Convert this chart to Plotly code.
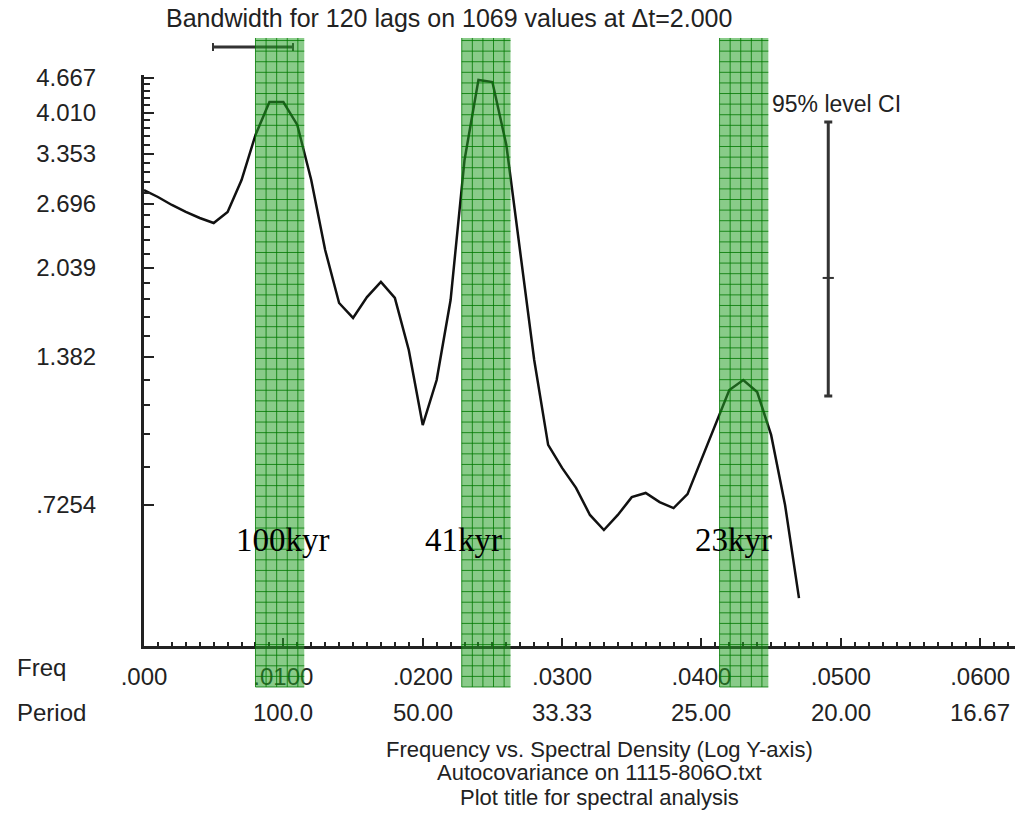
import plotly.graph_objects as go

# Spectral estimate (Blackman-Tukey, log density axis)
freq = [0.000, 0.001, 0.002, 0.003, 0.004, 0.005, 0.006, 0.007, 0.008, 0.009,
        0.010, 0.011, 0.012, 0.013, 0.014, 0.015, 0.016, 0.017, 0.018, 0.019,
        0.020, 0.021, 0.022, 0.023, 0.024, 0.025, 0.026, 0.027, 0.028, 0.029,
        0.030, 0.031, 0.032, 0.033, 0.034, 0.035, 0.036, 0.037, 0.038, 0.039,
        0.040, 0.041, 0.042, 0.043, 0.044, 0.045, 0.046, 0.047]
density = [2.862, 2.777, 2.682, 2.602, 2.534, 2.479, 2.602, 2.990, 3.639, 4.202,
           4.202, 3.802, 2.990, 2.204, 1.749, 1.639, 1.795, 1.917, 1.788, 1.425,
           1.027, 1.250, 1.772, 3.264, 4.627, 4.585, 3.483, 2.204, 1.364, 0.942,
           0.852, 0.781, 0.694, 0.650, 0.694, 0.750, 0.764, 0.734, 0.715, 0.760,
           0.882, 1.027, 1.197, 1.250, 1.186, 0.984, 0.725, 0.483]

ytick_vals = [0.7254, 1.382, 2.039, 2.696, 3.353, 4.010, 4.667]
ytick_text = [".7254", "1.382", "2.039", "2.696", "3.353", "4.010", "4.667"]
xtick_vals = [0.00, 0.01, 0.02, 0.03, 0.04, 0.05, 0.06]
xtick_text = [".000", ".0100", ".0200", ".0300", ".0400", ".0500", ".0600"]
period_text = ["", "100.0", "50.00", "33.33", "25.00", "20.00", "16.67"]

# Orbital bands
band_lo = [0.0080, 0.0228, 0.0413]
band_hi = [0.0115, 0.0263, 0.0448]
band_names = ["100kyr", "41kyr", "23kyr"]
band_label_x = [0.0100, 0.0229, 0.0423]

bandwidth = [0.00495, 0.01069]
ci_freq = 0.0491
ci_mid, ci_low, ci_high = 1.951, 1.166, 3.852

FONT = "Liberation Sans, Arial, sans-serif"
INK = "#222222"

# minor y ticks: five subdivisions of each labelled interval
step = ytick_vals[1] - ytick_vals[0]
yminor = [ytick_vals[0] - step]
for a, b in zip(ytick_vals[:-1], ytick_vals[1:]):
    d = (b - a) / 5
    yminor += [a + d * i for i in range(1, 5)]

fig = go.Figure()

fig.add_trace(go.Scatter(
    x=freq, y=density, mode="lines",
    line=dict(color="#111111", width=2.5),
    showlegend=False, hoverinfo="skip"))

# 95% confidence interval bar
fig.add_trace(go.Scatter(
    x=[ci_freq], y=[ci_mid], mode="markers",
    marker=dict(symbol="line-ew", size=8, line=dict(color="#333333", width=2)),
    error_y=dict(type="data", symmetric=False,
                 array=[ci_high - ci_mid], arrayminus=[ci_mid - ci_low],
                 thickness=3, width=4, color="#333333"),
    showlegend=False, hoverinfo="skip"))

shapes = []
# bandwidth bar above the plot
bw_y = 1.049
shapes.append(dict(type="line", xref="x", yref="paper", x0=bandwidth[0], x1=bandwidth[1],
                   y0=bw_y, y1=bw_y, line=dict(color="#333333", width=3), layer="above"))
for bx in bandwidth:
    shapes.append(dict(type="line", xref="x", yref="paper", x0=bx, x1=bx,
                       y0=bw_y - 0.007, y1=bw_y + 0.007,
                       line=dict(color="#333333", width=2), layer="above"))

# shaded, gridded bands
band_top, band_bot = 1.0648, -0.0718
gx, gy = 0.00076, 0.01856
for lo, hi in zip(band_lo, band_hi):
    shapes.append(dict(type="rect", xref="x", yref="paper", x0=lo, x1=hi,
                       y0=band_bot, y1=band_top, line=dict(width=0),
                       fillcolor="rgba(40,160,40,0.55)", layer="above"))
    x = lo
    while x < hi - 1e-5:
        shapes.append(dict(type="line", xref="x", yref="paper", x0=x, x1=x,
                           y0=band_bot, y1=band_top,
                           line=dict(color="rgba(0,120,0,0.8)", width=1), layer="above"))
        x += gx
    y = band_bot
    while y < band_top:
        shapes.append(dict(type="line", xref="x", yref="paper", x0=lo, x1=hi,
                           y0=y, y1=y,
                           line=dict(color="rgba(0,120,0,0.8)", width=1), layer="above"))
        y += gy

annotations = []
annotations.append(dict(text="Bandwidth for 120 lags on 1069 values at \u0394t=2.000",
                        xref="paper", yref="paper", x=0.350, y=1.0998,
                        xanchor="center", yanchor="middle", showarrow=False,
                        font=dict(family=FONT, size=25, color=INK)))
annotations.append(dict(text="95% level CI", xref="paper", yref="paper",
                        x=0.7187, y=0.949, xanchor="left", yanchor="middle",
                        showarrow=False, font=dict(family=FONT, size=23, color=INK)))
for name, bx in zip(band_names, band_label_x):
    annotations.append(dict(text=name, xref="x", yref="paper", x=bx, y=0.1856,
                            xanchor="center", yanchor="middle", showarrow=False,
                            font=dict(family="Liberation Serif, Times New Roman, serif",
                                      size=33, color="#000000")))
annotations.append(dict(text="Freq", xref="paper", yref="paper", x=-0.148, y=-0.0385,
                        xanchor="left", yanchor="middle", showarrow=False,
                        font=dict(family=FONT, size=24, color=INK)))
annotations.append(dict(text="Period", xref="paper", yref="paper", x=-0.148, y=-0.1173,
                        xanchor="left", yanchor="middle", showarrow=False,
                        font=dict(family=FONT, size=24, color=INK)))
for fx, pt in zip(xtick_vals, period_text):
    if pt:
        annotations.append(dict(text=pt, xref="x", yref="paper", x=fx, y=-0.1173,
                                xanchor="center", yanchor="middle", showarrow=False,
                                font=dict(family=FONT, size=24, color=INK)))
for txt, yy in [("Frequency vs. Spectral Density (Log Y-axis)", -0.182),
                ("Autocovariance on 1115-806O.txt", -0.2224),
                ("Plot title for spectral analysis", -0.2645)]:
    annotations.append(dict(text=txt, xref="paper", yref="paper", x=0.5235, y=yy,
                            xanchor="center", yanchor="middle", showarrow=False,
                            font=dict(family=FONT, size=22, color=INK)))

fig.update_layout(
    width=1025, height=829,
    margin=dict(l=144, r=10, t=75, b=183),
    paper_bgcolor="white", plot_bgcolor="white",
    shapes=shapes, annotations=annotations,
    xaxis=dict(range=[0, 0.0625], showgrid=False, zeroline=False,
               showline=True, linecolor="#222222", linewidth=3,
               ticks="inside", ticklen=8, tickwidth=2, tickcolor="#222222",
               tickmode="array", tickvals=xtick_vals, ticktext=xtick_text,
               ticklabelstandoff=7,
               tickfont=dict(family=FONT, size=24, color=INK),
               minor=dict(dtick=0.001, tick0=0, ticks="inside", ticklen=4,
                          tickwidth=2, tickcolor="#222222", showgrid=False)),
    yaxis=dict(type="log", range=[-0.4068, 0.6746], showgrid=False, zeroline=False,
               showline=True, linecolor="#222222", linewidth=3,
               ticks="inside", ticklen=10, tickwidth=2, tickcolor="#222222",
               tickmode="array", tickvals=ytick_vals, ticktext=ytick_text,
               ticklabelstandoff=40,
               tickfont=dict(family=FONT, size=24, color=INK),
               minor=dict(tickmode="array", tickvals=yminor, ticks="inside",
                          ticklen=6, tickwidth=2, tickcolor="#222222", showgrid=False)),
)

fig.write_html("out.html")
